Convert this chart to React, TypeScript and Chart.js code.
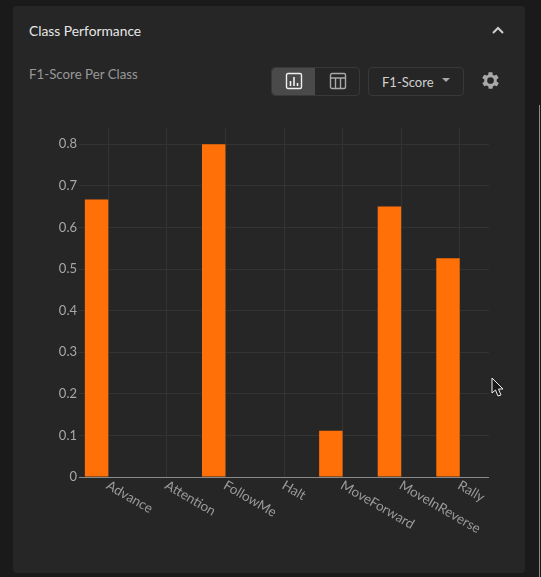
import { useEffect, useRef } from "react";
import { Chart, registerables } from "chart.js";

Chart.register(...registerables);

const classNames = ["Advance", "Attention", "FollowMe", "Halt", "MoveForward", "MoveInReverse", "Rally"];
const f1Scores = [0.667, 0, 0.8, 0, 0.111, 0.65, 0.526];
const yTicks = [0, 0.1, 0.2, 0.3, 0.4, 0.5, 0.6, 0.7, 0.8];

const FONT = "Lato, sans-serif";

// chart.js always right-aligns rotated x labels, these start at the tick instead
const slantedLabels = {
    id: "slantedLabels",
    afterDraw(chart: Chart) {
        const { ctx, scales } = chart;
        const x = scales.x;
        ctx.save();
        ctx.font = `13.5px ${FONT}`;
        ctx.fillStyle = "#9a9a9a";
        ctx.textAlign = "left";
        ctx.textBaseline = "alphabetic";
        classNames.forEach((name, i) => {
            ctx.save();
            ctx.translate(x.getPixelForTick(i) - 3, x.top + 11);
            ctx.rotate(Math.PI / 6);
            ctx.fillText(name, 0, 0);
            ctx.restore();
        });
        ctx.restore();
    },
};

export default function App() {
    const chartRef = useRef<HTMLCanvasElement | null>(null);

    useEffect(() => {
        document.body.style.margin = "0";
        document.body.style.background = "#1a1a1a";
        const ctx = chartRef.current?.getContext("2d");
        if (!ctx) return;

        const chart = new Chart(ctx, {
            type: "bar",
            data: {
                labels: classNames,
                datasets: [
                    { label: "F1-Score", data: f1Scores, backgroundColor: "#ff7008", borderWidth: 0, barPercentage: 1 },
                    // empty second group keeps the bars left of the tick
                    { label: "", data: [], backgroundColor: "transparent", barPercentage: 1 },
                ],
            },
            plugins: [slantedLabels],
            options: {
                animation: false,
                responsive: false,
                maintainAspectRatio: false,
                layout: { padding: 0 },
                plugins: { legend: { display: false }, tooltip: { enabled: false } },
                scales: {
                    x: {
                        offset: true,
                        afterFit: (axis) => {
                            axis.height = 75;
                        },
                        grid: { offset: false, color: "#333333", drawTicks: false },
                        border: { color: "#8a8a8a" },
                        ticks: { display: false },
                    },
                    y: {
                        min: 0,
                        max: 0.839,
                        afterFit: (axis) => {
                            axis.width = 50;
                            axis.paddingTop = 0;
                            axis.paddingBottom = 0;
                        },
                        afterBuildTicks: (axis) => {
                            axis.ticks = yTicks.map((value) => ({ value }));
                        },
                        grid: { color: "#333333", drawTicks: false },
                        border: { display: false },
                        ticks: {
                            color: "#a8a8a8",
                            font: { family: FONT, size: 13 },
                            padding: 2,
                        },
                    },
                },
            },
        });

        return () => chart.destroy();
    }, []);

    return (
        <div style={{ position: "relative", width: 541, height: 577, fontFamily: FONT, overflow: "hidden" }}>
            <div style={{ position: "absolute", left: 13, top: 6, width: 512, height: 567, background: "#262626", borderRadius: 4 }} />
            <div style={{ position: "absolute", left: 539, top: 105, width: 1, height: 472, background: "#8a8a8a" }} />
            <div style={{ position: "absolute", left: 29, top: 22, color: "#e6e6e6", fontSize: 13.8 }}>Class Performance</div>
            <svg style={{ position: "absolute", left: 490, top: 24 }} width="16" height="12" viewBox="0 0 16 12">
                <path d="M3 9 L8 4 L13 9" fill="none" stroke="#cfcfcf" strokeWidth="2" />
            </svg>
            <div style={{ position: "absolute", left: 29, top: 66, color: "#989898", fontSize: 13.3 }}>F1-Score Per Class</div>

            <div style={{ position: "absolute", left: 271, top: 67, width: 87, height: 27, border: "1px solid #383838", borderRadius: 4 }} />
            <div style={{ position: "absolute", left: 272, top: 68, width: 43, height: 27, background: "#4a4a4a", borderRadius: "4px 0 0 4px" }} />
            <svg style={{ position: "absolute", left: 285, top: 72 }} width="18" height="18" viewBox="0 0 18 18">
                <rect x="1.5" y="1.5" width="15" height="15" rx="1.5" fill="none" stroke="#f0f0f0" strokeWidth="1.4" />
                <path d="M5.5 14V9 M9 14V5 M12.5 14V11" stroke="#f0f0f0" strokeWidth="1.6" />
            </svg>
            <svg style={{ position: "absolute", left: 329, top: 72 }} width="18" height="18" viewBox="0 0 18 18">
                <rect x="1.5" y="1.5" width="15" height="15" rx="1.5" fill="none" stroke="#a8a8a8" strokeWidth="1.4" />
                <path d="M1.5 6H16.5 M6.5 6V16.5 M11.5 6V16.5" stroke="#a8a8a8" strokeWidth="1.4" />
            </svg>

            <div style={{ position: "absolute", left: 368, top: 67, width: 94, height: 27, border: "1px solid #383838", borderRadius: 4 }} />
            <div style={{ position: "absolute", left: 382, top: 74, color: "#d0d0d0", fontSize: 13 }}>F1-Score</div>
            <svg style={{ position: "absolute", left: 441, top: 77 }} width="10" height="7" viewBox="0 0 10 7">
                <path d="M1 1H9L5 5Z" fill="#a8a8a8" />
            </svg>
            <svg style={{ position: "absolute", left: 479, top: 69 }} width="23" height="23" viewBox="0 0 24 24">
                <path
                    fill="#a8a8a8"
                    d="M19.4 13a7.6 7.6 0 0 0 0-2l2.1-1.6-2-3.5-2.5 1a7.4 7.4 0 0 0-1.7-1L15 3.3h-4l-.4 2.6a7.4 7.4 0 0 0-1.7 1l-2.5-1-2 3.5L6.6 11a7.6 7.6 0 0 0 0 2l-2.1 1.6 2 3.5 2.5-1a7.4 7.4 0 0 0 1.7 1l.4 2.6h4l.4-2.6a7.4 7.4 0 0 0 1.7-1l2.5 1 2-3.5zM13 15.5a3.5 3.5 0 1 1 0-7 3.5 3.5 0 0 1 0 7z"
                    transform="translate(-1 0)"
                />
            </svg>

            <div style={{ position: "absolute", left: 29, top: 128, width: 460, height: 424 }}>
                <canvas ref={chartRef} width={460} height={424} style={{ display: "block" }} />
            </div>

            <svg style={{ position: "absolute", left: 491, top: 377 }} width="14" height="22" viewBox="0 0 14 22">
                <path d="M1 1V16L4.5 13L7 19L10 18L7.5 12H12Z" fill="#1a1a1a" stroke="#f0f0f0" strokeWidth="1" />
            </svg>
        </div>
    );
}
